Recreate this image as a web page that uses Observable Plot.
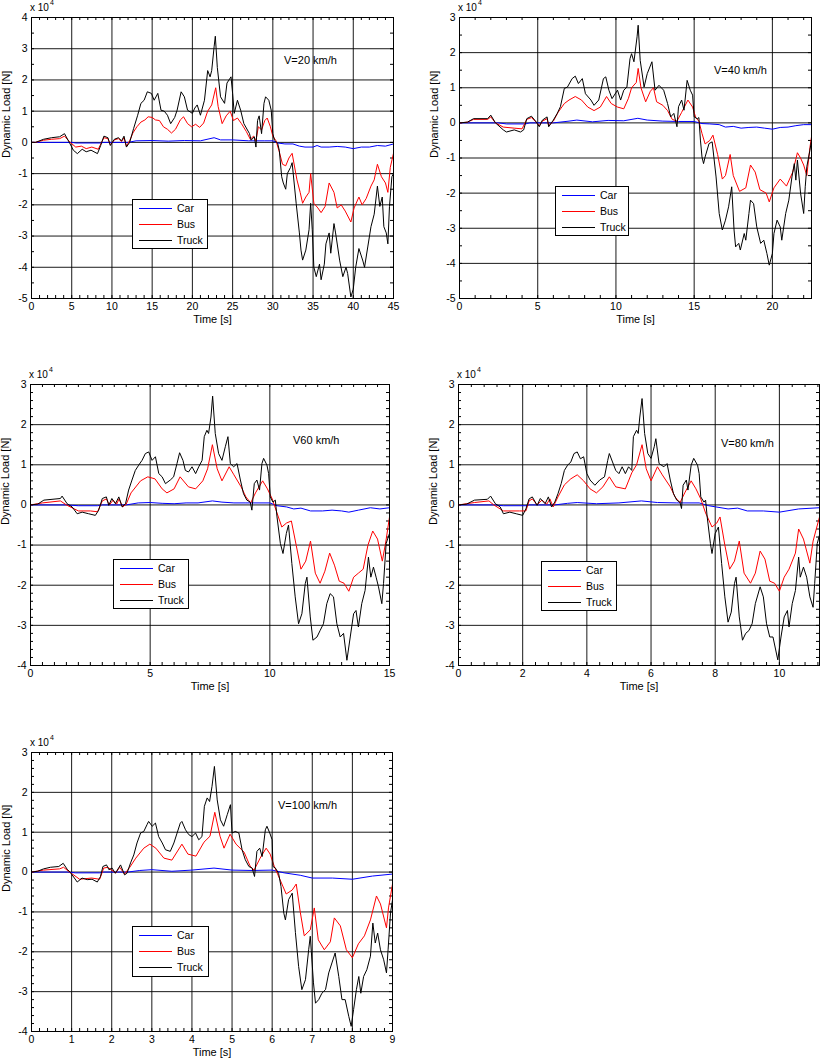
<!DOCTYPE html>
<html>
<head>
<meta charset="utf-8">
<script src="https://cdn.jsdelivr.net/npm/d3@7"></script>
<script src="https://cdn.jsdelivr.net/npm/@observablehq/plot@0.6"></script>
<style>
  body { margin: 0; background: #fff; }
  #wrap { position: relative; width: 820px; height: 1061px; overflow: hidden; font-family: "Liberation Sans", Arial, sans-serif; color: #000; }
  .panel { position: absolute; }
  .ov { position: absolute; white-space: nowrap; line-height: 12px; }
  .legend { position: absolute; }
</style>
</head>
<body>
<div id="wrap"></div>
<script>
// ---- Data (values in units of 10^4 N) ----
const seriesNames = ["Car", "Bus", "Truck"];
const speedLabels = ["V=20 km/h", "V=40 km/h", "V60 km/h", "V=80 km/h", "V=100 km/h"];
const durations = [45, 22.5, 15, 11.25, 9];

const car20 = [[0,0],[5,0],[5.5,-0.02],[8.5,-0.02],[9,0],[12,0],[13,0.05],[15,0.06],[17,0.04],[19,0.06],[21,0.05],[22.7,0.15],[23.5,0.08],[25,0.08],[27,0.05],[29,0.05],[30,0.05],[30.6,-0.02],[31.5,-0.05],[32.5,-0.05],[33.3,-0.12],[34,-0.15],[35,-0.15],[35.5,-0.1],[36,-0.15],[37,-0.15],[38,-0.13],[39,-0.15],[40,-0.2],[41,-0.15],[42,-0.15],[43,-0.1],[44,-0.12],[45,-0.05]];
const bus20 = [[0,0],[0.5,0],[1.5,0.07],[2.5,0.1],[3.5,0.12],[4.1,0.2],[4.8,0],[5.5,-0.15],[6.2,-0.12],[6.8,-0.2],[7.5,-0.15],[8.3,-0.22],[8.7,0],[9,0.15],[9.5,0.12],[9.8,-0.08],[10.3,0.08],[10.8,0.12],[11.2,0.03],[11.5,0.15],[11.8,-0.12],[12.2,0.05],[12.6,0.3],[13.1,0.5],[13.6,0.65],[14.1,0.72],[14.5,0.82],[15,0.8],[15.4,0.72],[15.9,0.7],[16.4,0.5],[16.9,0.42],[17.4,0.3],[17.9,0.42],[18.5,0.72],[18.9,0.82],[19.4,0.6],[19.9,0.5],[20.4,0.58],[20.9,0.48],[21.4,0.62],[21.9,1.0],[22.4,1.2],[22.9,1.75],[23.2,1.15],[23.7,0.6],[24.2,0.85],[24.7,1.0],[25.1,0.7],[25.6,0.78],[26.1,0.6],[26.7,0.35],[27.2,0.1],[27.6,0.2],[27.9,0.05],[28.2,0.5],[28.6,0.4],[29,0.7],[29.3,0.78],[29.7,0.5],[30,0.2],[30.4,0.05],[30.8,-0.3],[31.2,-0.7],[31.6,-0.75],[32,-0.5],[32.4,-0.35],[33,-1.2],[33.4,-1.6],[33.7,-1.95],[34.1,-1.75],[34.5,-1.6],[34.7,-1.0],[35.1,-1.95],[35.6,-2.1],[36,-2.25],[36.5,-2.05],[37,-1.3],[37.6,-1.6],[38,-2.1],[38.5,-2.0],[39,-2.2],[39.7,-2.55],[40.1,-2.1],[40.7,-1.75],[41.1,-2.0],[41.6,-1.8],[42.2,-1.4],[42.6,-1.2],[43,-0.7],[43.5,-1.1],[44,-1.3],[44.3,-1.6],[44.6,-0.8],[45,-0.35]];
const truck20 = [[0,0],[0.5,0],[1.5,0.1],[2.5,0.15],[3.5,0.18],[4.1,0.28],[4.7,0],[5.2,-0.25],[5.7,-0.36],[6.3,-0.22],[6.8,-0.3],[7.4,-0.25],[8.2,-0.36],[8.6,-0.1],[9,0.2],[9.5,0.15],[9.8,-0.1],[10.3,0.1],[10.8,0.15],[11.2,0.05],[11.5,0.2],[11.8,-0.15],[12.2,0],[12.7,0.45],[13.2,0.87],[13.6,1.25],[14.0,1.35],[14.4,1.62],[14.9,1.57],[15.25,1.35],[15.7,1.57],[16.1,1.03],[16.5,1.0],[16.9,0.87],[17.3,0.6],[17.8,0.8],[18.1,1.03],[18.6,1.62],[19,1.46],[19.4,1.03],[20,0.93],[20.3,1.1],[20.6,1.2],[21,0.87],[21.5,1.35],[21.9,2.3],[22.2,2.1],[22.4,2.3],[22.7,3.06],[22.85,3.4],[23.1,2.4],[23.5,1.46],[24,1.25],[24.3,1.9],[24.8,2.1],[25,1.57],[25.2,0.93],[25.6,1.35],[26,1.03],[26.4,0.6],[27.1,0.28],[27.3,0.07],[27.7,0.18],[27.9,-0.15],[28.1,0.7],[28.3,0.85],[28.6,0.28],[28.9,1.25],[29.1,1.46],[29.5,1.35],[29.8,1.03],[30,0.28],[30.2,0.07],[30.6,-0.03],[30.8,-0.25],[31.1,-1.1],[31.3,-1.3],[31.6,-1.5],[31.8,-1.0],[32.2,-0.8],[32.4,-0.65],[32.9,-1.95],[33.3,-2.9],[33.5,-3.45],[33.7,-3.77],[34.1,-3.45],[34.5,-2.8],[34.7,-1.95],[34.9,-2.8],[35.1,-4.0],[35.4,-4.3],[35.8,-3.9],[36,-4.4],[36.4,-3.9],[36.6,-3.25],[37,-2.9],[37.2,-3.55],[37.6,-2.6],[37.8,-2.9],[38.3,-3.77],[38.7,-4.3],[39.1,-4.0],[39.3,-4.2],[39.7,-4.95],[40,-4.7],[40.3,-4.0],[40.7,-3.4],[41.2,-3.8],[41.4,-4.0],[41.8,-3.35],[42.2,-2.7],[42.6,-2.3],[43,-1.4],[43.3,-2.05],[43.6,-1.75],[43.8,-2.7],[44.1,-2.9],[44.3,-3.25],[44.5,-2.05],[44.8,-1.1],[45,-1.0]];

const car40 = [[0,0],[2.5,0],[3,-0.03],[4.2,-0.03],[4.5,0],[6,0],[7,0.05],[7.5,0.08],[8.5,0.03],[9.5,0.07],[10.5,0.06],[11.4,0.13],[12,0.08],[13,0.05],[14,0.04],[15,0.04],[15.5,-0.02],[16,-0.03],[16.6,-0.05],[17,-0.12],[17.5,-0.1],[18,-0.15],[18.5,-0.13],[19,-0.12],[19.5,-0.15],[20,-0.18],[20.5,-0.13],[21,-0.12],[21.5,-0.08],[22,-0.05],[22.5,-0.05]];
const bus40 = [[0,0],[0.5,0.02],[0.9,0.1],[1.8,0.1],[2.0,0.17],[2.3,0],[2.8,-0.12],[3.5,-0.15],[4.0,-0.17],[4.3,0.1],[4.6,0.15],[4.9,0.02],[5.1,-0.08],[5.3,0.05],[5.6,0.12],[5.7,-0.08],[6.0,0.05],[6.3,0.3],[6.7,0.55],[7.0,0.65],[7.4,0.75],[7.8,0.65],[8.2,0.45],[8.6,0.35],[9.0,0.45],[9.4,0.75],[9.7,0.55],[10.1,0.45],[10.5,0.4],[10.8,0.7],[11.0,1.0],[11.3,1.15],[11.42,1.55],[11.6,1.0],[11.9,0.6],[12.2,0.9],[12.4,1.0],[12.6,0.6],[13.0,0.5],[13.3,0.35],[13.6,0.1],[13.9,0.05],[14.2,0.3],[14.6,0.65],[14.9,0.45],[15.1,0.15],[15.3,0.05],[15.5,-0.3],[15.7,-0.6],[16.0,-0.5],[16.2,-0.35],[16.5,-0.9],[16.8,-1.6],[17.0,-1.5],[17.3,-0.9],[17.5,-1.5],[17.9,-1.95],[18.3,-1.85],[18.6,-1.2],[18.9,-1.4],[19.2,-1.9],[19.6,-2.0],[19.8,-2.25],[20.1,-1.85],[20.5,-1.6],[20.9,-1.8],[21.3,-1.4],[21.6,-0.85],[21.8,-1.0],[22.0,-1.2],[22.2,-1.5],[22.4,-0.7],[22.5,-0.4]];
const truck40 = [[0,0],[0.5,0.02],[0.9,0.12],[1.8,0.12],[2.0,0.22],[2.3,0],[2.8,-0.2],[3.0,-0.26],[3.5,-0.2],[3.9,-0.26],[4.1,-0.2],[4.3,0.12],[4.6,0.19],[4.9,0.03],[5.1,-0.11],[5.3,0.08],[5.6,0.17],[5.7,-0.11],[6.0,0.08],[6.25,0.27],[6.45,0.46],[6.7,0.98],[6.9,1.02],[7.2,1.26],[7.4,1.33],[7.6,1.12],[7.85,1.26],[8.05,0.83],[8.4,0.65],[8.6,0.5],[8.9,0.65],[9.2,1.26],[9.35,1.31],[9.55,0.93],[9.75,0.69],[10.1,0.93],[10.3,0.65],[10.5,0.93],[10.7,1.02],[10.9,1.83],[11.0,1.97],[11.15,1.74],[11.35,2.45],[11.42,2.78],[11.55,1.78],[11.8,1.02],[12.0,1.4],[12.3,1.74],[12.5,0.93],[12.75,1.07],[13.05,0.93],[13.3,0.55],[13.5,0.17],[13.7,0.27],[13.9,-0.11],[14.0,0.46],[14.2,0.65],[14.35,0.36],[14.55,1.21],[14.75,0.93],[14.9,0.79],[15.0,0.17],[15.2,0.12],[15.3,0.15],[15.4,-0.49],[15.5,-0.97],[15.6,-1.16],[15.7,-0.97],[15.95,-0.59],[16.15,-0.54],[16.4,-1.54],[16.6,-2.58],[16.8,-3.05],[17.0,-2.77],[17.2,-2.39],[17.4,-1.82],[17.55,-3.05],[17.65,-3.53],[17.85,-3.43],[17.95,-3.62],[18.2,-3.15],[18.3,-3.34],[18.5,-2.58],[18.6,-2.2],[18.8,-2.3],[19.0,-2.96],[19.25,-3.43],[19.45,-3.34],[19.65,-3.72],[19.8,-4.05],[20.0,-3.72],[20.1,-3.15],[20.3,-2.77],[20.5,-2.96],[20.6,-3.34],[20.85,-2.58],[21.05,-2.2],[21.25,-1.54],[21.4,-1.16],[21.5,-1.63],[21.6,-1.06],[21.8,-2.0],[22.0,-2.58],[22.1,-1.82],[22.2,-1.25],[22.4,-0.78],[22.5,-0.5]];

const car60 = [[0,0],[1.5,0],[2,-0.02],[2.8,-0.02],[3,0],[4,0],[4.5,0.05],[5,0.06],[5.5,0.04],[6,0.03],[6.5,0.05],[7,0.05],[7.6,0.1],[8,0.07],[8.5,0.05],[9,0.05],[10,0.05],[10.3,-0.02],[10.7,-0.05],[11,-0.1],[11.3,-0.08],[11.7,-0.15],[12.2,-0.15],[12.6,-0.13],[13,-0.15],[13.3,-0.18],[13.7,-0.13],[14.2,-0.07],[14.6,-0.1],[15,-0.07]];
const bus60 = [[0,0],[0.5,0.05],[1.25,0.1],[1.5,0],[2,-0.15],[2.5,-0.15],[2.8,-0.17],[3.0,0.1],[3.17,0.15],[3.3,0],[3.45,0.12],[3.6,0.02],[3.7,0.15],[3.85,-0.05],[4.0,0.02],[4.2,0.3],[4.6,0.6],[4.9,0.7],[5.2,0.65],[5.5,0.4],[5.7,0.3],[6.0,0.4],[6.25,0.7],[6.6,0.45],[6.9,0.4],[7.2,0.6],[7.4,0.9],[7.6,1.5],[7.8,0.9],[8.0,0.6],[8.3,0.95],[8.5,0.75],[8.8,0.45],[9.0,0.2],[9.2,0.05],[9.4,0.3],[9.7,0.6],[9.9,0.4],[10.1,0.15],[10.3,-0.2],[10.5,-0.55],[10.7,-0.45],[10.9,-0.4],[11.1,-1.0],[11.3,-1.6],[11.5,-1.4],[11.7,-0.9],[11.9,-1.7],[12.1,-1.95],[12.3,-1.65],[12.5,-1.2],[12.7,-1.5],[12.9,-1.9],[13.1,-1.95],[13.3,-2.15],[13.5,-1.8],[13.7,-1.7],[13.9,-1.6],[14.1,-1.0],[14.3,-0.65],[14.5,-0.85],[14.7,-1.4],[14.85,-0.9],[15,-0.3]];
const truck60 = [[0,0],[0.3,0.02],[0.56,0.12],[1.25,0.16],[1.32,0.22],[1.53,0.03],[1.74,-0.05],[1.95,-0.22],[2.16,-0.18],[2.43,-0.22],[2.71,-0.26],[2.85,-0.13],[3.0,0.16],[3.17,0.2],[3.27,-0.01],[3.4,0.16],[3.55,0.03],[3.69,0.2],[3.83,-0.05],[3.97,0.03],[4.1,0.37],[4.24,0.62],[4.38,0.86],[4.52,0.99],[4.66,1.11],[4.8,1.28],[4.94,1.32],[5.08,1.11],[5.22,1.2],[5.36,0.78],[5.5,0.7],[5.64,0.53],[5.84,0.62],[5.98,0.7],[6.12,1.03],[6.23,1.3],[6.37,1.11],[6.47,0.86],[6.6,0.82],[6.75,0.95],[6.9,0.78],[7.03,0.95],[7.17,1.11],[7.26,1.7],[7.37,1.86],[7.44,1.78],[7.54,2.19],[7.61,2.71],[7.72,1.78],[7.86,1.28],[8.0,1.11],[8.14,1.45],[8.25,1.7],[8.35,1.03],[8.49,0.95],[8.63,1.03],[8.77,0.62],[8.9,0.28],[9.04,0.12],[9.18,0.07],[9.25,-0.13],[9.35,0.53],[9.46,0.62],[9.57,0.37],[9.67,1.03],[9.74,1.16],[9.88,0.99],[9.95,0.78],[10.02,0.2],[10.13,0.07],[10.23,0.12],[10.3,-0.3],[10.44,-0.96],[10.55,-1.21],[10.69,-0.71],[10.78,-0.5],[10.92,-1.46],[11.06,-2.29],[11.2,-2.96],[11.34,-2.71],[11.48,-1.96],[11.55,-1.8],[11.69,-2.79],[11.8,-3.37],[11.97,-3.29],[12.1,-3.13],[12.24,-2.96],[12.38,-2.46],[12.52,-2.21],[12.66,-2.29],[12.8,-2.96],[12.94,-3.29],[13.08,-3.2],[13.22,-3.87],[13.36,-3.29],[13.5,-2.71],[13.6,-2.63],[13.7,-3.04],[13.84,-2.46],[13.98,-2.13],[14.12,-1.3],[14.22,-1.8],[14.33,-1.55],[14.44,-1.8],[14.54,-2.04],[14.68,-2.46],[14.75,-1.96],[14.86,-0.96],[15,-0.71]];

const car80 = [[0,0],[1.1,0],[1.4,-0.02],[2.1,-0.02],[2.2,0],[3,0],[3.4,0.04],[3.7,0.06],[4.3,0.03],[5,0.05],[5.7,0.1],[6.2,0.06],[6.8,0.05],[7.5,0.05],[7.8,-0.02],[8.4,-0.1],[8.7,-0.08],[9,-0.15],[9.5,-0.15],[10,-0.18],[10.6,-0.1],[11.25,-0.07]];
const bus80 = [[0,0],[0.5,0.06],[0.95,0.1],[1.1,0],[1.4,-0.15],[1.9,-0.15],[2.1,-0.15],[2.2,0.1],[2.3,0.15],[2.45,0],[2.6,0.12],[2.75,0.02],[2.85,0.15],[2.95,-0.05],[3.1,0.2],[3.3,0.5],[3.5,0.65],[3.7,0.75],[3.9,0.6],[4.1,0.4],[4.3,0.3],[4.5,0.45],[4.7,0.7],[4.9,0.45],[5.2,0.4],[5.4,0.8],[5.55,1.0],[5.72,1.5],[5.85,0.9],[6.0,0.6],[6.2,0.95],[6.35,0.75],[6.6,0.45],[6.75,0.2],[6.9,0.05],[7.05,0.3],[7.25,0.6],[7.4,0.4],[7.55,0.15],[7.7,-0.2],[7.9,-0.55],[8.05,-0.45],[8.15,-0.3],[8.3,-1.0],[8.45,-1.6],[8.6,-1.4],[8.75,-0.9],[8.9,-1.7],[9.1,-1.95],[9.25,-1.7],[9.4,-1.15],[9.55,-1.35],[9.7,-1.9],[9.85,-1.95],[10.0,-2.15],[10.15,-1.8],[10.3,-1.6],[10.5,-1.2],[10.6,-0.6],[10.75,-0.85],[10.95,-1.45],[11.05,-0.9],[11.25,-0.3]];
const truck80 = [[0,0],[0.25,0.02],[0.5,0.12],[0.9,0.14],[1.0,0.22],[1.15,0.03],[1.3,-0.05],[1.4,-0.22],[1.6,-0.18],[1.8,-0.22],[2.0,-0.26],[2.1,-0.1],[2.2,0.15],[2.3,0.2],[2.45,-0.01],[2.55,0.16],[2.7,0.03],[2.8,0.2],[2.9,-0.05],[3.0,0.07],[3.1,0.28],[3.2,0.53],[3.3,0.86],[3.4,0.99],[3.5,1.07],[3.6,1.28],[3.7,1.32],[3.8,1.15],[3.9,1.2],[4.0,0.78],[4.1,0.62],[4.25,0.49],[4.4,0.62],[4.55,0.7],[4.65,1.11],[4.7,1.28],[4.8,1.07],[4.9,0.86],[5.0,0.78],[5.1,0.95],[5.2,0.78],[5.3,0.95],[5.4,0.86],[5.45,1.7],[5.55,1.86],[5.6,1.78],[5.65,2.19],[5.72,2.65],[5.8,1.78],[5.9,1.28],[6.0,1.16],[6.1,1.45],[6.15,1.65],[6.25,1.03],[6.4,0.95],[6.5,1.03],[6.6,0.62],[6.7,0.28],[6.8,0.12],[6.9,0.07],[6.95,-0.09],[7.0,0.49],[7.1,0.62],[7.15,0.37],[7.25,0.99],[7.33,1.16],[7.45,0.99],[7.5,0.78],[7.55,0.2],[7.65,0.07],[7.7,0.12],[7.75,-0.3],[7.85,-0.96],[7.9,-1.21],[8.0,-0.71],[8.1,-0.55],[8.2,-1.46],[8.3,-2.29],[8.4,-2.92],[8.5,-2.67],[8.6,-1.96],[8.65,-1.8],[8.75,-2.79],[8.85,-3.37],[8.95,-3.2],[9.05,-3.13],[9.15,-2.96],[9.25,-2.46],[9.4,-2.04],[9.5,-2.29],[9.6,-2.96],[9.7,-3.29],[9.8,-3.29],[9.95,-3.86],[10.05,-3.29],[10.15,-2.79],[10.25,-2.63],[10.3,-3.04],[10.4,-2.46],[10.5,-2.13],[10.6,-1.3],[10.65,-1.8],[10.75,-1.55],[10.85,-1.8],[10.95,-2.29],[11.05,-2.55],[11.1,-1.96],[11.18,-0.96],[11.25,-0.75]];

const car100 = [[0,0],[0.9,0],[1.1,-0.02],[1.7,-0.02],[1.8,0],[2.4,0],[2.7,0.04],[3,0.06],[3.5,0.02],[4,0.05],[4.55,0.1],[5,0.05],[5.5,0.04],[6,0.05],[6.3,-0.02],[6.7,-0.08],[7,-0.15],[7.5,-0.15],[8,-0.18],[8.5,-0.1],[9,-0.05]];
const bus100 = [[0,0],[0.3,0.05],[0.7,0.08],[0.8,0.12],[0.95,0],[1.2,-0.18],[1.5,-0.15],[1.7,-0.18],[1.8,0.1],[1.9,0.12],[2.0,0.05],[2.1,-0.02],[2.2,0.12],[2.32,-0.05],[2.45,0.12],[2.6,0.35],[2.8,0.6],[2.95,0.7],[3.1,0.6],[3.3,0.35],[3.5,0.3],[3.75,0.7],[3.9,0.45],[4.1,0.4],[4.3,0.75],[4.45,0.9],[4.57,1.5],[4.7,0.9],[4.8,0.6],[4.95,0.95],[5.1,0.7],[5.3,0.5],[5.45,0.15],[5.55,0.05],[5.7,0.35],[5.85,0.6],[5.95,0.45],[6.05,0.15],[6.2,-0.2],[6.35,-0.55],[6.5,-0.45],[6.6,-0.3],[6.7,-1.0],[6.8,-1.6],[6.95,-1.45],[7.05,-0.9],[7.15,-1.7],[7.3,-1.95],[7.45,-1.75],[7.55,-1.15],[7.7,-1.35],[7.85,-1.95],[8.0,-2.15],[8.15,-1.8],[8.3,-1.6],[8.45,-1.2],[8.6,-0.6],[8.7,-0.8],[8.85,-1.4],[8.9,-0.9],[9.0,-0.3]];
const truck100 = [[0,0],[0.15,0.02],[0.3,0.08],[0.47,0.12],[0.68,0.14],[0.79,0.22],[0.89,0.07],[0.97,-0.01],[1.14,-0.25],[1.26,-0.15],[1.39,-0.19],[1.51,-0.18],[1.64,-0.25],[1.72,-0.11],[1.78,0.14],[1.87,0.18],[1.93,0.06],[2.01,0.1],[2.09,-0.03],[2.22,0.18],[2.32,-0.07],[2.38,-0.03],[2.47,0.23],[2.55,0.43],[2.63,0.73],[2.72,0.98],[2.8,1.02],[2.88,1.19],[2.92,1.27],[3.01,1.15],[3.09,1.23],[3.17,0.89],[3.26,0.73],[3.34,0.56],[3.46,0.52],[3.55,0.73],[3.63,0.98],[3.71,1.23],[3.75,1.27],[3.84,1.06],[3.92,0.94],[4.0,0.89],[4.09,0.98],[4.17,0.81],[4.25,0.89],[4.31,1.65],[4.38,1.86],[4.44,1.77],[4.5,2.15],[4.56,2.65],[4.63,1.81],[4.71,1.31],[4.79,1.15],[4.88,1.44],[4.96,1.69],[5.0,0.98],[5.08,1.02],[5.17,0.98],[5.25,0.56],[5.33,0.31],[5.42,0.14],[5.5,0.1],[5.56,-0.11],[5.62,0.52],[5.69,0.6],[5.75,0.39],[5.83,1.06],[5.87,1.15],[5.94,0.98],[6.0,0.81],[6.02,0.14],[6.08,0.1],[6.16,-0.03],[6.22,-0.36],[6.29,-1.03],[6.33,-1.2],[6.41,-0.69],[6.5,-0.53],[6.58,-1.52],[6.66,-2.37],[6.74,-2.95],[6.83,-2.7],[6.91,-1.95],[6.95,-1.61],[7.03,-2.78],[7.08,-3.29],[7.16,-3.2],[7.24,-3.04],[7.33,-2.95],[7.41,-2.53],[7.49,-2.28],[7.57,-2.03],[7.66,-2.62],[7.74,-3.2],[7.82,-3.2],[7.91,-3.62],[7.97,-3.87],[8.03,-3.45],[8.1,-2.95],[8.16,-2.62],[8.21,-3.04],[8.28,-2.62],[8.36,-2.45],[8.45,-2.11],[8.51,-1.28],[8.57,-1.78],[8.63,-1.53],[8.7,-1.95],[8.78,-2.2],[8.85,-2.53],[8.89,-1.95],[8.95,-1.03],[9.0,-0.7]];

const xTickSets = [
  [0,5,10,15,20,25,30,35,40,45],
  [0,5,10,15,20],
  [0,5,10,15],
  [0,2,4,6,8,10],
  [0,1,2,3,4,5,6,7,8,9]
];
const yTickSets = [
  [-5,-4,-3,-2,-1,0,1,2,3,4],
  [-5,-4,-3,-2,-1,0,1,2,3],
  [-4,-3,-2,-1,0,1,2,3],
  [-4,-3,-2,-1,0,1,2,3],
  [-4,-3,-2,-1,0,1,2,3]
];
const seriesData = [
  [car20, bus20, truck20],
  [car40, bus40, truck40],
  [car60, bus60, truck60],
  [car80, bus80, truck80],
  [car100, bus100, truck100]
];

// ---- Layout / style ----
const FONT = '"Liberation Sans", Arial, Helvetica, sans-serif';
const colors = ["#0000ff", "#ff0000", "#000000"];
const layout = [
  {left: 0,   top: 0,   w: 400, h: 340, ml: 31, mr: 7,  mt: 17, mb: 42, xMinor: 1,   yMinor: 0.5, note: [284, 54], leg: [132, 199, 76, 50]},
  {left: 410, top: 0,   w: 410, h: 340, ml: 49, mr: 9,  mt: 17, mb: 42, xMinor: 1,   yMinor: 0.5, note: [714, 64], leg: [555, 186, 74, 50]},
  {left: 0,   top: 367, w: 400, h: 340, ml: 30, mr: 11, mt: 17, mb: 42, xMinor: 0.5, yMinor: 0.2, note: [293, 434], leg: [113, 559, 76, 50]},
  {left: 410, top: 367, w: 410, h: 340, ml: 48, mr: 1,  mt: 17, mb: 42, xMinor: 0.4, yMinor: 0.2, note: [721, 437], leg: [541, 561, 76, 50]},
  {left: 0,   top: 735, w: 400, h: 326, ml: 31, mr: 8,  mt: 17, mb: 30, xMinor: 0.2, yMinor: 0.2, note: [278, 799], leg: [132, 926, 77, 51]}
];

const SVGNS = "http://www.w3.org/2000/svg";
const wrap = document.getElementById("wrap");

function makeLegend(x, y, w, h) {
  const s = document.createElementNS(SVGNS, "svg");
  s.setAttribute("width", w);
  s.setAttribute("height", h);
  s.setAttribute("class", "legend");
  s.style.left = x + "px";
  s.style.top = y + "px";
  const rect = document.createElementNS(SVGNS, "rect");
  rect.setAttribute("x", 0.5); rect.setAttribute("y", 0.5);
  rect.setAttribute("width", w - 1); rect.setAttribute("height", h - 1);
  rect.setAttribute("fill", "#fff"); rect.setAttribute("stroke", "#000");
  s.appendChild(rect);
  const rows = [9.5, 25.5, 41.5];
  seriesNames.forEach((name, k) => {
    const ln = document.createElementNS(SVGNS, "line");
    ln.setAttribute("x1", 7); ln.setAttribute("x2", 40);
    ln.setAttribute("y1", rows[k]); ln.setAttribute("y2", rows[k]);
    ln.setAttribute("stroke", colors[k]); ln.setAttribute("stroke-width", 1);
    s.appendChild(ln);
    const t = document.createElementNS(SVGNS, "text");
    t.setAttribute("x", 45); t.setAttribute("y", rows[k] + 3.6);
    t.setAttribute("font-size", "10.5");
    t.setAttribute("font-family", FONT);
    t.setAttribute("fill", "#000");
    t.textContent = name;
    s.appendChild(t);
  });
  return s;
}

layout.forEach((c, i) => {
  const T = durations[i];
  const yT = yTickSets[i];
  const y0 = yT[0], y1 = yT[yT.length - 1];
  const xT = xTickSets[i];
  const innerW = c.w - c.ml - c.mr, innerH = c.h - c.mt - c.mb;
  const tx = 3 * T / innerW, ty = 3 * (y1 - y0) / innerH;
  const minorX = d3.range(0, T + 1e-9, c.xMinor);
  const minorY = d3.range(y0, y1 + 1e-9, c.yMinor);
  const xGrid = xT.filter(v => v > 0 && v < T);
  const yGrid = yT.filter(v => v > y0 && v < y1);

  const svg = Plot.plot({
    width: c.w, height: c.h,
    marginLeft: c.ml, marginRight: c.mr, marginTop: c.mt, marginBottom: c.mb,
    style: {fontFamily: FONT, fontSize: "10.5px", background: "transparent", overflow: "visible", color: "#000"},
    x: {domain: [0, T]},
    y: {domain: [y0, y1]},
    marks: [
      Plot.gridX(xGrid, {stroke: "#000", strokeOpacity: 0.9}),
      Plot.gridY(yGrid, {stroke: "#000", strokeOpacity: 0.9}),
      Plot.ruleX(minorX, {x: d => d, y1: y0, y2: y0 + ty, stroke: "#000"}),
      Plot.ruleX(minorX, {x: d => d, y1: y1, y2: y1 - ty, stroke: "#000"}),
      Plot.ruleY(minorY, {y: d => d, x1: 0, x2: tx, stroke: "#000"}),
      Plot.ruleY(minorY, {y: d => d, x1: T, x2: T - tx, stroke: "#000"}),
      ...seriesData[i].map((data, k) => Plot.line(data, {x: d => d[0], y: d => d[1], stroke: colors[k], strokeWidth: 1, clip: true})),
      Plot.frame({stroke: "#000"}),
      Plot.axisX(xT, {tickSize: 0, tickPadding: 4, tickFormat: d => String(d), label: null}),
      Plot.axisY(yT, {tickSize: 0, tickPadding: 4, tickFormat: d => String(d), label: null}),
      Plot.text(["Time [s]"], {frameAnchor: "bottom", dy: 24, text: d => d, fontSize: 11}),
      Plot.text(["Dynamic Load [N]"], {frameAnchor: "left", dx: -25, rotate: -90, text: d => d, fontSize: 11})
    ]
  });
  svg.classList.add("panel");
  svg.style.left = c.left + "px";
  svg.style.top = c.top + "px";
  wrap.appendChild(svg);

  // exponent label
  const ex = document.createElement("div");
  ex.className = "ov";
  ex.style.left = (c.left + c.ml - 1) + "px";
  ex.style.top = (c.top + c.mt - 15) + "px";
  ex.style.fontSize = "10px";
  ex.innerHTML = 'x 10<span style="font-size:7px;position:relative;top:-6px;margin-left:1px">4</span>';
  wrap.appendChild(ex);

  // speed annotation
  const nt = document.createElement("div");
  nt.className = "ov";
  nt.style.left = c.note[0] + "px";
  nt.style.top = c.note[1] + "px";
  nt.style.fontSize = "11px";
  nt.textContent = speedLabels[i];
  wrap.appendChild(nt);

  // legend
  wrap.appendChild(makeLegend(c.leg[0], c.leg[1], c.leg[2], c.leg[3]));
});
</script>
</body>
</html>
